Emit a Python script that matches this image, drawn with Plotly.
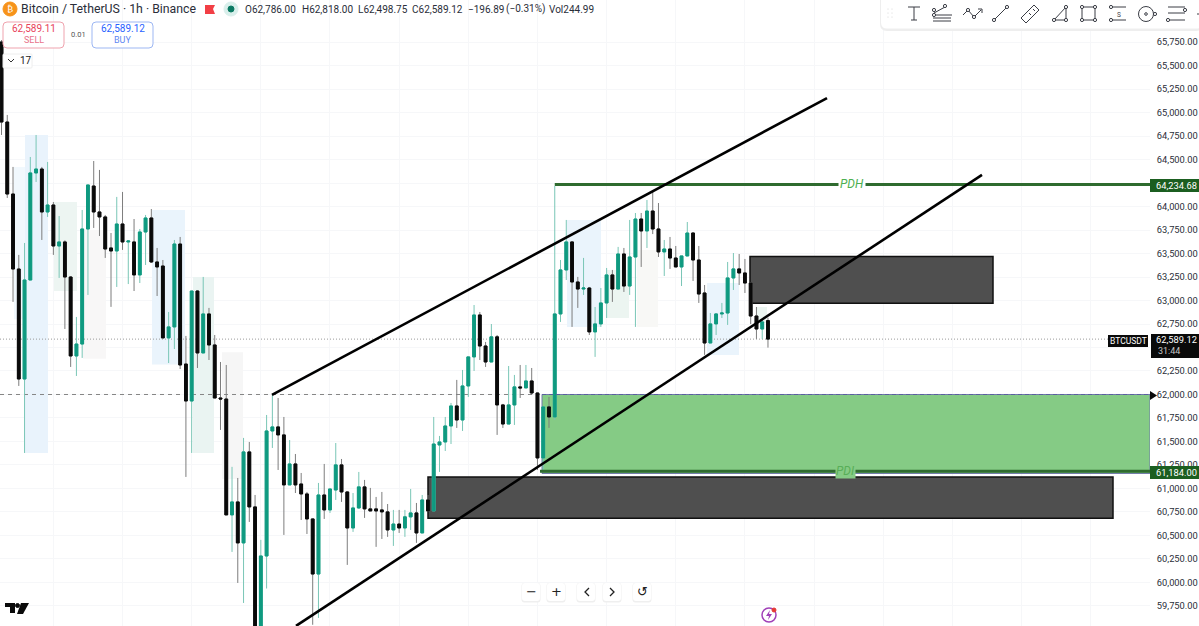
import plotly.graph_objects as go

opens = [65750,64899,64133,63335,62165,63218,64357,64399,63942,64016,63580,63623,63250,62410,62537,63761,64218,63942,63889,63559,63527,63814,63623,63623,63272,63729,63878,63410,63367,62602,62719,63601,62324,61931,63101,62442,62857,62527,61963,61952,60719,60857,60421,61389,60804,59389,60282,61612,61655,61570,61038,61261,61048,60942,60676,60090,60931,60772,60984,61251,60963,60580,60793,61017,60783,60783,60772,60751,60559,60622,60580,60698,60740,60527,60878,60761,61463,61495,61665,61878,61729,62091,62400,62846,62516,62346,62613,61889,61686,61889,62081,62070,62144,62016,61325,61868,61761,62857,63325,63623,63197,63122,63133,62666,62751,62974,63272,63122,63495,63154,63463,63867,63740,63952,63761,63517,63548,63452,63357,63474,63718,63431,63080,62548,62751,62857,62867,63240,63336,63293,63186,62835,62697,62786]
highs = [65771,64974,64421,63485,63612,64527,64761,64421,64474,64048,63899,63640,63260,62825,63963,64229,64484,64389,63910,63718,64102,64155,63640,63867,63761,63910,63973,63559,63431,62878,63644,63676,62623,63101,63110,63251,62921,62633,62346,62314,61230,61112,61538,61495,60931,60453,61782,61995,61963,61761,61516,61367,61165,60963,60680,61059,61261,60995,61484,61314,60970,60952,61176,61091,61006,60910,60963,60835,60772,60772,60772,60995,60846,60931,60931,61761,61559,61761,61910,62155,62261,62400,62952,62878,62559,62750,62633,61900,62303,62208,62314,62314,62282,62020,61870,61974,64218,63431,63857,63630,63251,63453,63144,62931,63133,63346,63325,63570,63559,63857,63931,63931,64069,64155,64037,63644,63676,63580,63474,63835,63725,63580,63165,62867,62867,62974,63410,63505,63495,63442,63190,62931,62803,62818]
lows = [64761,64091,62985,62091,61378,63218,64261,63644,63889,63485,63240,62697,62293,62197,62389,63059,63772,63686,63453,62932,63144,63538,63175,63101,63186,63378,63399,63048,62600,62335,62484,62271,61123,61378,62282,62442,62367,61963,61623,60719,60325,59995,59782,60644,59300,59250,59936,61431,61197,60506,61038,60952,60665,60516,59550,59623,60676,60740,60878,60857,60187,60538,60783,60687,60761,60379,60463,60485,60389,60527,60485,60559,60421,60527,60761,60761,61176,61399,61473,61644,61612,61974,62250,62367,62293,62346,61570,61644,61686,61676,61963,62070,61995,61197,61165,61644,61729,62772,63218,62719,62921,63059,62633,62400,62719,62814,62985,63122,63091,63059,62719,63357,63559,63707,63463,63261,63336,63357,63154,63474,63208,62974,62421,62548,62633,62814,62740,63112,63165,63080,62750,62591,62591,62498.75]
closes = [64899,64133,63335,62165,63218,64357,64399,63942,64016,63580,63623,63250,62410,62537,63761,64229,63942,63889,63548,63527,63814,63623,63633,63272,63729,63878,63410,63357,62602,62719,63601,62314,61931,63101,62442,62857,62527,61963,61952,60719,60857,60421,61389,60804,59340,60282,61612,61655,61570,61038,61261,61038,60942,60676,60090,60931,60772,60995,61251,60963,60580,60793,61017,60783,60761,60761,60751,60559,60622,60580,60698,60740,60527,60878,60761,61473,61495,61665,61878,61729,62091,62400,62846,62516,62346,62613,61889,61686,61889,62081,62070,62144,62016,61325,61868,61761,62857,63325,63623,63197,63122,63133,62666,62751,62974,63272,63122,63495,63154,63463,63867,63740,63952,63761,63517,63548,63452,63357,63474,63718,63431,63069,62548,62751,62857,62867,63240,63336,63293,63186,62835,62697,62772,62589.12]

tick_prices = [59750 + 250 * k for k in range(25)]
hidden_ticks = [62500, 64250]
grid_candles = [9 + 12 * k for k in range(17)]

zone_left = [14, 25, 54, 83, 152, 193, 222, 567, 607, 637, 707, 757]
zone_right = [25, 48, 77, 106, 185, 214, 243, 601, 629, 658, 739, 767]
zone_top = [64420, 64761, 64048, 63750, 63963, 63251, 62450, 63857, 63325, 63538, 63186, 62931]
zone_bottom = [62800, 61378, 63100, 62380, 62320, 61378, 61100, 62719, 62814, 62719, 62421, 62760]
zone_color = ["#F1F8FD", "#E9F3FC", "#EDF5F2", "#F8F7F7", "#EAF4FC", "#EAF4F2", "#F6F6F6", "#EAF4FC", "#ECF5F1", "#F8F8F6", "#EAF4FC", "#ECF5F1"]

PX_PER_CANDLE = 5.763
FIRST_PX = 1.5
W_PLOT = 1150
H = 626
W = 1199
xmin = -FIRST_PX / PX_PER_CANDLE
xmax = (W_PLOT - FIRST_PX) / PX_PER_CANDLE
ymin, ymax = 59537.0, 66197.0

def cx(px):
    return (px - FIRST_PX) / PX_PER_CANDLE
def X(px):
    return px / W_PLOT
def Y(py):
    return 1 - py / H

idx = list(range(len(opens)))
body_hi = [max(a, b) for a, b in zip(opens, closes)]
body_lo = [min(a, b) for a, b in zip(opens, closes)]

GREEN_BODY = "#0F9A80"
BLACK_BODY = "#0A0A0A"

fig = go.Figure()
fig.add_trace(go.Candlestick(x=idx, open=opens, high=highs, low=lows, close=closes,
    increasing=dict(line=dict(color="#79C6B6", width=1), fillcolor="#79C6B6"),
    decreasing=dict(line=dict(color="#7D7D7D", width=1), fillcolor="#7D7D7D"),
    whiskerwidth=0, showlegend=False, hoverinfo="skip"))
fig.add_trace(go.Candlestick(x=idx, open=opens, high=body_hi, low=body_lo, close=closes,
    increasing=dict(line=dict(color=GREEN_BODY, width=1), fillcolor=GREEN_BODY),
    decreasing=dict(line=dict(color=BLACK_BODY, width=1), fillcolor=BLACK_BODY),
    whiskerwidth=0, showlegend=False, hoverinfo="skip"))

shapes = []
anns = []

def rect_data(x0, x1, y0, y1, fill, line=None, lw=0, layer="between"):
    shapes.append(dict(type="rect", xref="x", yref="y", x0=x0, x1=x1, y0=y0, y1=y1, fillcolor=fill,
                       line=dict(color=line or fill, width=lw), layer=layer))

def line_data(x0, y0, x1, y1, color, width, dash="solid", layer="above"):
    shapes.append(dict(type="line", xref="x", yref="y", x0=x0, y0=y0, x1=x1, y1=y1,
                       line=dict(color=color, width=width, dash=dash), layer=layer))

def rpx(x0, y0, x1, y1, fill="rgba(0,0,0,0)", line="rgba(0,0,0,0)", lw=0):
    shapes.append(dict(type="rect", xref="paper", yref="paper", x0=X(x0), x1=X(x1), y0=Y(y1), y1=Y(y0),
                       fillcolor=fill, line=dict(color=line, width=lw), layer="above"))

def rounded(x0, y0, x1, y1, r, fill="white", line="rgba(0,0,0,0)", lw=1):
    p = (f"M {X(x0+r)} {Y(y0)} L {X(x1-r)} {Y(y0)} Q {X(x1)} {Y(y0)} {X(x1)} {Y(y0+r)} "
         f"L {X(x1)} {Y(y1-r)} Q {X(x1)} {Y(y1)} {X(x1-r)} {Y(y1)} L {X(x0+r)} {Y(y1)} "
         f"Q {X(x0)} {Y(y1)} {X(x0)} {Y(y1-r)} L {X(x0)} {Y(y0+r)} Q {X(x0)} {Y(y0)} {X(x0+r)} {Y(y0)} Z")
    shapes.append(dict(type="path", xref="paper", yref="paper", path=p, fillcolor=fill,
                       line=dict(color=line, width=lw), layer="above"))

def lpx(x0, y0, x1, y1, color="#2A2E39", w=1):
    shapes.append(dict(type="line", xref="paper", yref="paper", x0=X(x0), x1=X(x1), y0=Y(y0), y1=Y(y1),
                       line=dict(color=color, width=w), layer="above"))

def cpx(x, y, r, fill="white", line="#2A2E39", w=1):
    shapes.append(dict(type="circle", xref="paper", yref="paper", x0=X(x-r), x1=X(x+r), y0=Y(y+r), y1=Y(y-r),
                       fillcolor=fill, line=dict(color=line, width=w), layer="above"))

def poly(points, fill, line=None, w=0, close=True):
    p = "M " + " L ".join(f"{X(a)} {Y(b)}" for a, b in points) + (" Z" if close else "")
    shapes.append(dict(type="path", xref="paper", yref="paper", path=p, fillcolor=fill if close else "rgba(0,0,0,0)",
                       line=dict(color=line or "rgba(0,0,0,0)", width=w), layer="above"))

def text(x, y, s, size=11, color="#131722", anchor="left", font="Roboto", **kw):
    anns.append(dict(xref="paper", yref="paper", x=X(x), y=Y(y), text=s, showarrow=False,
                     xanchor=anchor, yanchor="middle", font=dict(size=size, color=color, family=font),
                     borderpad=0, **kw))

# pale indicator zones
for a, b, t, u, c in zip(zone_left, zone_right, zone_top, zone_bottom, zone_color):
    rect_data(cx(a), cx(b), u, t, c)

# marked zones from the drawing tools
rect_data(cx(542), xmax, 61160, 62000, "#85CB85", "#6E78A8", 1)
rect_data(cx(750), cx(993), 62970, 63468, "#4F4F4F", "#111111", 1.5)
rect_data(cx(428), cx(1113), 60683, 61123, "#4F4F4F", "#111111", 1.5)

# price levels
line_data(xmin, 62589.12, cx(1108), 62589.12, "#9A9A9A", 1, "1px,2px", "between")
line_data(xmin, 62000, cx(542), 62000, "#858585", 1, "4px,4px", "between")
line_data(cx(542), 62000, xmax, 62000, "#5A5F9E", 1.2, "4px,3px", "above")
line_data(96, 64234.68, xmax, 64234.68, "#2F6B2F", 3)
line_data(cx(540), 61184, xmax, 61184, "#2F6B2F", 3)

# trend lines
line_data(cx(272), 61995, cx(827), 65154, "#000000", 2.6)
line_data(cx(296), 59538, cx(982), 64336, "#000000", 2.6)

anns.append(dict(xref="x", yref="y", x=cx(852), y=64234.68, text="<i>PDH</i>", showarrow=False, bgcolor="white",
                 font=dict(size=12, color="#4CAF50", family="Roboto"), borderpad=1))
anns.append(dict(xref="x", yref="y", x=cx(845), y=61184, text="<i>PDI</i>", showarrow=False, bgcolor="#85CB85",
                 font=dict(size=12, color="#58AE58", family="Roboto"), borderpad=0))

# right axis tags
rpx(1150, 179, 1199, 192, "#1B5E20")
text(1198, 185.5, "64,234.68", 9.3, "white", "right")
rpx(1150, 466, 1199, 479, "#1B5E20")
text(1198, 472.5, "61,184.00", 9.3, "white", "right")
rpx(1108, 335, 1148, 347, "#0A0A0A")
text(1128, 341, "BTCUSDT", 8.5, "white", "center")
rpx(1151, 334, 1199, 358, "#0A0A0A")
text(1198, 340, "62,589.12", 9.3, "white", "right")
text(1157, 351, "31:44", 9, "#C8C8C8", "left")
poly([(1150, 391), (1157, 395.5), (1150, 400)], "#0A0A0A")

# header
cpx(10, 9, 7, "#F7931A", "#F7931A")
text(10, 9, "₿", 9, "white", "center", "DejaVu Sans")
text(20, 9, "Bitcoin / TetherUS · 1h · Binance", 12.3, "#2A2E39")
poly([(205, 5), (215, 5), (213, 9), (215, 14), (205, 14)], "#F23F45")
cpx(231, 9, 7, "#D9EFEB", "#D9EFEB")
cpx(231, 9, 3, "#0B7A63", "#0B7A63")
for tx, s in zip((244, 300.5, 356.5, 411, 466.5, 505, 547.5),
                 ("O62,786.00", "H62,818.00", "L62,498.75", "C62,589.12", "−196.89", "(−0.31%)", "Vol244.99")):
    text(tx, 9, s, 10, "#2A2E39")

rounded(3, 22, 64, 48, 4, "white", "#EFA3AE", 1)
text(33.5, 29, "62,589.11", 10, "#E8425A", "center")
text(33.5, 40, "SELL", 9, "#E8738A", "center")
text(78, 34.5, "0.01", 7.5, "#555555", "center")
rounded(92, 22, 153, 48, 4, "white", "#9DB7F3", 1)
text(122.5, 29, "62,589.12", 10, "#2962FF", "center")
text(122.5, 40, "BUY", 9, "#5F87F2", "center")
rounded(3, 54, 32, 68, 1, "white", "#EEEEEE", 1)
poly([(8, 59), (11, 62), (14, 59)], "white", "#333333", 1, False)
text(19, 61, "17", 10, "#222222")

# toolbar
rounded(880, -6, 1203, 31, 7, "#EEEEEE")
rounded(881, -6, 1203, 28.5, 6, "white")
for gx in (888, 892):
    for gy in (9, 13, 17):
        cpx(gx, gy, 0.6, "#D5D5D5", "#D5D5D5", 0)
c = "#3A3D45"
lpx(908, 7, 920, 7, c); lpx(914, 7, 914, 20, c); lpx(911, 20, 917, 20, c)
lpx(933, 18, 951, 18, c); lpx(933, 21, 951, 21, c); lpx(934, 13, 945, 7, c); lpx(934, 15, 952, 15, c)
cpx(934, 10, 1.6, line=c); cpx(934, 15, 1.6, line=c); cpx(945, 6, 1.6, line=c)
poly([(963, 15), (968, 10), (974, 17), (981, 10)], "white", c, 1, False)
poly([(978, 9), (982, 9), (982, 13)], "white", c, 1, False)
cpx(968, 10, 1.6, line=c); cpx(974, 17, 1.6, line=c)
lpx(994, 20, 1007, 7, c); cpx(994, 20, 1.6, line=c); cpx(1007, 7, 1.6, line=c)
poly([(1021, 18), (1034, 5), (1039, 10), (1026, 23)], "white", c, 1)
lpx(1029, 13, 1031, 15, c); lpx(1033, 9, 1035, 11, c)
poly([(1054, 20), (1066, 7), (1066, 20)], "white", c, 1)
cpx(1054, 20, 1.6, line=c); cpx(1066, 7, 1.6, line=c); cpx(1066, 20, 1.6, line=c)
rpx(1082, 7, 1095, 20, "rgba(0,0,0,0)", c, 1)
for a, b in ((1082, 7), (1095, 7), (1082, 20), (1095, 20)):
    cpx(a, b, 1.6, line=c)
lpx(1111, 7, 1126, 7, c); lpx(1111, 20, 1126, 20, c)
cpx(1111, 7, 1.6, line=c); cpx(1111, 20, 1.6, line=c)
text(1118.5, 15, "S", 6.5, c, "center")
cpx(1146, 14, 7.5, "white", c)
cpx(1146, 14, 1.3, "white", c); cpx(1155, 14, 1.6, line=c)
lpx(1168, 7, 1185, 7, c); lpx(1168, 13, 1185, 13, c); lpx(1168, 20, 1185, 20, c)
cpx(1185, 10, 1.6, line=c); cpx(1168, 20, 1.6, line=c)
lpx(1197, 14, 1199, 14, c)

# bottom buttons
for bx in (531, 556, 586, 612, 642):
    rounded(bx - 9.5, 583, bx + 9.5, 602.5, 3, "#EFEFEF")
    rounded(bx - 9, 583, bx + 9, 601, 3, "white")
text(531, 591.5, "−", 13, "#222222", "center", "DejaVu Sans")
text(556, 591.5, "+", 13, "#222222", "center", "DejaVu Sans")
poly([(589, 588), (585, 592), (589, 596)], "white", "#222222", 1.3, False)
poly([(610, 588), (614, 592), (610, 596)], "white", "#222222", 1.3, False)
text(642, 591.5, "↺", 13, "#222222", "center", "DejaVu Sans")

# logo and bolt
poly([(5, 603), (15, 603), (15, 613), (10, 613), (10, 607), (5, 607)], "#0A0A0A")
cpx(17.5, 605.5, 2, "#0A0A0A", "#0A0A0A")
poly([(21, 603), (29, 603), (23, 614), (17, 614)], "#0A0A0A")
cpx(769, 615, 7, "white", "#A040B8", 1.5)
poly([(770, 610), (766, 616), (769, 616), (768, 620), (772, 614), (769, 614)], "#A040B8")
cpx(774, 610, 2, "#E53935", "#E53935")

fig.update_layout(
    width=W, height=H, margin=dict(l=0, r=W - W_PLOT, t=0, b=0, autoexpand=False),
    paper_bgcolor="white", plot_bgcolor="white", showlegend=False, boxgap=0.3,
    shapes=shapes, annotations=anns,
    xaxis=dict(range=[xmin, xmax], rangeslider=dict(visible=False), showticklabels=False, ticks="",
               tickmode="array", tickvals=grid_candles, showgrid=True, gridcolor="#F6F7F9", gridwidth=1, zeroline=False, showline=False,
               automargin=False),
    yaxis=dict(range=[ymin, ymax], side="right", tickmode="array", tickvals=tick_prices,
               ticktext=["" if v in hidden_ticks else f"{v:,.2f}" for v in tick_prices], showgrid=True, gridcolor="#F6F7F9", gridwidth=1,
               zeroline=False, showline=False, ticks="outside", ticklen=4, tickcolor="rgba(0,0,0,0)", automargin=False,
               tickfont=dict(size=9.3, color="#2A2E39", family="Roboto")),
)
fig.write_html("out.html", config=dict(displayModeBar=False), post_script="document.body.style.margin='0';")
